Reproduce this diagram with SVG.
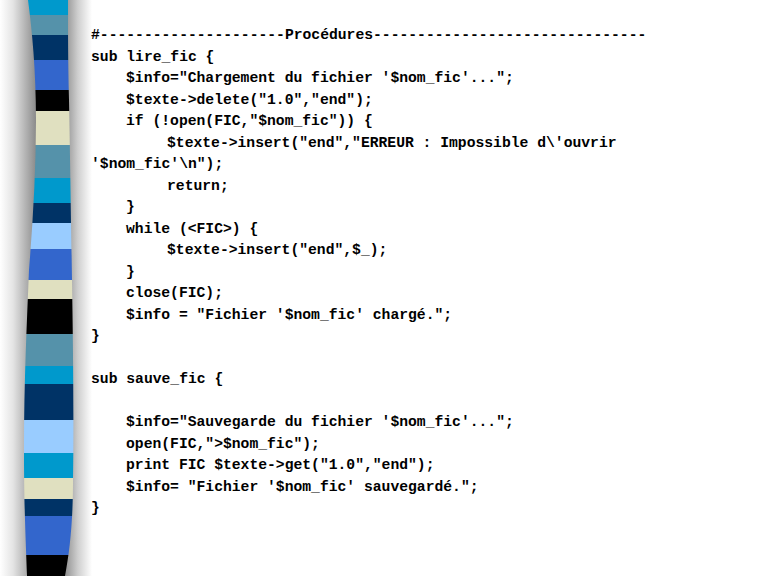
<svg xmlns="http://www.w3.org/2000/svg" width="768" height="576" viewBox="0 0 768 576">
<defs>
<style>
text{font-family:"Liberation Mono","Courier New",monospace;font-size:14.7px;font-weight:bold;fill:#000;white-space:pre}
</style>
<linearGradient id="shL" x1="0" y1="0" x2="1" y2="0">
<stop offset="0" stop-color="#ffffff"/>
<stop offset="0.35" stop-color="#e4e4e4"/>
<stop offset="1" stop-color="#878787"/>
</linearGradient>
<linearGradient id="shR" x1="0" y1="0" x2="1" y2="0">
<stop offset="0" stop-color="#8c8c8c"/>
<stop offset="0.5" stop-color="#cfcfcf"/>
<stop offset="1" stop-color="#ffffff"/>
</linearGradient>
<clipPath id="barClip">
<path d="M28,0 C32,30 36,70 36,120 C36,170 33,220 29,270 C27,320 24,380 24,450 C24,510 26,545 27,576 L65,576 C70,550 73,520 73,480 C74,420 73,340 72,280 C71,220 70,150 69,100 C68,60 68,30 68,0 Z"/>
</clipPath>
</defs>
<rect width="768" height="576" fill="#ffffff"/>
<g id="bar">
<rect x="0" y="0" width="37" height="576" fill="url(#shL)"/>
<rect x="64" y="0" width="28" height="576" fill="url(#shR)"/>
<g clip-path="url(#barClip)">
<rect x="20" y="0" width="60" height="15" fill="#0099cc"/>
<rect x="20" y="15" width="60" height="20" fill="#5592aa"/>
<rect x="20" y="35" width="60" height="25" fill="#003366"/>
<rect x="20" y="60" width="60" height="30" fill="#3366cc"/>
<rect x="20" y="90" width="60" height="21" fill="#000000"/>
<rect x="20" y="111" width="60" height="34" fill="#e0e0c0"/>
<rect x="20" y="145" width="60" height="33" fill="#5592aa"/>
<rect x="20" y="178" width="60" height="25" fill="#0099cc"/>
<rect x="20" y="203" width="60" height="20" fill="#003366"/>
<rect x="20" y="223" width="60" height="26" fill="#99ccff"/>
<rect x="20" y="249" width="60" height="31" fill="#3366cc"/>
<rect x="20" y="280" width="60" height="19" fill="#e0e0c0"/>
<rect x="20" y="299" width="60" height="35" fill="#000000"/>
<rect x="20" y="334" width="60" height="32" fill="#5592aa"/>
<rect x="20" y="366" width="60" height="18" fill="#0099cc"/>
<rect x="20" y="384" width="60" height="36" fill="#003366"/>
<rect x="20" y="420" width="60" height="33" fill="#99ccff"/>
<rect x="20" y="453" width="60" height="25" fill="#0099cc"/>
<rect x="20" y="478" width="60" height="21" fill="#e0e0c0"/>
<rect x="20" y="499" width="60" height="17" fill="#003366"/>
<rect x="20" y="516" width="60" height="39" fill="#3366cc"/>
<rect x="20" y="555" width="60" height="21" fill="#000000"/>
</g>
</g>
<g id="code">
<text x="91" y="39">#---------------------Procédures-------------------------------</text>
<text x="91" y="60.5">sub lire_fic {</text>
<text x="126" y="82">$info="Chargement du fichier '$nom_fic'...";</text>
<text x="126" y="103.5">$texte-&gt;delete("1.0","end");</text>
<text x="126" y="125">if (!open(FIC,"$nom_fic")) {</text>
<text x="167" y="146.5">$texte-&gt;insert("end","ERREUR : Impossible d\'ouvrir</text>
<text x="91" y="168">'$nom_fic'\n");</text>
<text x="167" y="189.5">return;</text>
<text x="126" y="211">}</text>
<text x="126" y="232.5">while (&lt;FIC&gt;) {</text>
<text x="167" y="254">$texte-&gt;insert("end",$_);</text>
<text x="126" y="275.5">}</text>
<text x="126" y="297">close(FIC);</text>
<text x="126" y="318.5">$info = "Fichier '$nom_fic' chargé.";</text>
<text x="91" y="340">}</text>
<text x="91" y="383">sub sauve_fic {</text>
<text x="126" y="426">$info="Sauvegarde du fichier '$nom_fic'...";</text>
<text x="126" y="447.5">open(FIC,"&gt;$nom_fic");</text>
<text x="126" y="469">print FIC $texte-&gt;get("1.0","end");</text>
<text x="126" y="490.5">$info= "Fichier '$nom_fic' sauvegardé.";</text>
<text x="91" y="512">}</text>
</g>
</svg>
